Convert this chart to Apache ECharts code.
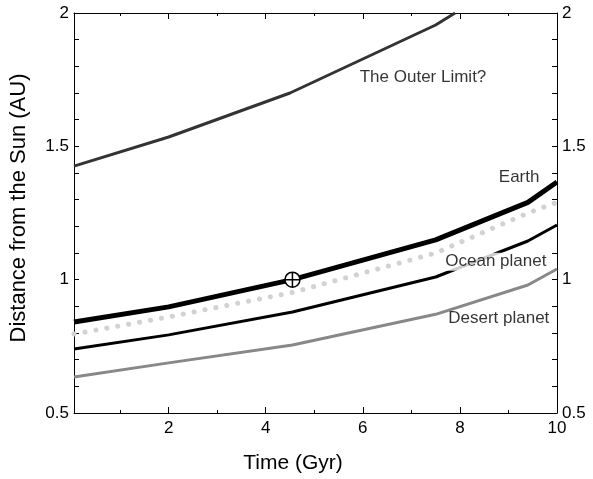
<!DOCTYPE html>
<html>
<head>
<meta charset="utf-8">
<script src="https://cdn.jsdelivr.net/npm/echarts@6.0.0/dist/echarts.min.js"></script>
<style>
  html, body { margin: 0; padding: 0; background: #fff; }
  #main { width: 593px; height: 479px; }
</style>
</head>
<body>
<div id="main"></div>
<script>
// time points (Gyr) where the tracks bend
const timeGyr = [0.05, 2, 4.55, 7.5, 9.4, 10];
const earth = [0.841, 0.898, 1.0, 1.149, 1.29, 1.366];
const dottedTrack = [0.796, 0.86, 0.952, 1.10, 1.25, 1.29];
const ocean = [0.74, 0.793, 0.879, 1.01, 1.145, 1.205];
const desert = [0.635, 0.688, 0.755, 0.87, 0.98, 1.04];

// outer limit leaves the top of the plot before 8 Gyr
const outerTime = [0.05, 2, 4.5, 7.5, 7.9];
const outerLimit = [1.426, 1.535, 1.70, 1.955, 2.0];

// present-day Earth
const sunNow = [4.55, 1.0];

// ticks
const xMajor = [2, 4, 6, 8, 10];
const xMinor = [1, 3, 5, 7, 9];
const yLabels = [0.5, 1, 1.5, 2];
const yTicks = [0.5, 0.6, 0.7, 0.8, 0.9, 1, 1.1, 1.2, 1.3, 1.4, 1.5, 1.6, 1.7, 1.8, 1.9, 2];

// curve labels
const labelNames = ['The Outer Limit?', 'Earth', 'Ocean planet', 'Desert planet'];
const labelX = [7.24, 9.22, 8.74, 8.80];
const labelY = [1.76, 1.385, 1.0675, 0.856];

const font = 'Liberation Sans, Arial, sans-serif';
const zip = (xs, ys) => xs.map((x, i) => [x, ys[i]]);

const chart = echarts.init(document.getElementById('main'));

function xAx(pos, ticks, len, withLabels) {
  return {
    type: 'value', position: pos, min: 0.05, max: 10,
    axisLine: { show: withLabels !== null, onZero: false, lineStyle: { color: '#000', width: 1 } },
    axisTick: { inside: true, length: len, customValues: ticks, lineStyle: { color: '#000', width: 1 } },
    axisLabel: withLabels
      ? { customValues: xMajor, color: '#000', fontSize: 17, fontFamily: font, margin: 7 }
      : { show: false },
    splitLine: { show: false }
  };
}

function yAx(pos) {
  return {
    type: 'value', position: pos, min: 0.5, max: 2,
    axisLine: { show: true, onZero: false, lineStyle: { color: '#000', width: 1 } },
    axisTick: { inside: true, length: 5, customValues: yTicks, lineStyle: { color: '#000', width: 1 } },
    axisLabel: { customValues: yLabels, color: '#000', fontSize: 17, fontFamily: font, margin: 5 },
    splitLine: { show: false }
  };
}

const xBottom = xAx('bottom', xMajor, 6, true);
xBottom.name = 'Time (Gyr)';
xBottom.nameLocation = 'middle';
xBottom.nameGap = 40;
xBottom.nameTextStyle = { color: '#000', fontSize: 21, fontFamily: font, padding: [0, 45, 0, 0] };

const yLeft = yAx('left');
yLeft.name = 'Distance from the Sun (AU)';
yLeft.nameLocation = 'middle';
yLeft.nameGap = 44;
yLeft.nameTextStyle = { color: '#000', fontSize: 22, fontFamily: font, padding: [0, 0, 0, 10] };

const option = {
  animation: false,
  backgroundColor: '#fff',
  grid: { left: 72, right: 36, top: 13, bottom: 66 },
  xAxis: [
    xBottom,
    xAx('bottom', xMinor, 3, null),
    xAx('top', xMajor, 6, false),
    xAx('top', xMinor, 3, null)
  ],
  yAxis: [yLeft, yAx('right')],
  series: [
    {
      type: 'line', data: zip(outerTime, outerLimit), symbol: 'none',
      lineStyle: { color: '#333', width: 3 }
    },
    {
      type: 'line', data: zip(timeGyr, desert), symbol: 'none',
      lineStyle: { color: '#888', width: 3 }
    },
    {
      type: 'line', data: zip(timeGyr, ocean), symbol: 'none',
      lineStyle: { color: '#000', width: 3 }
    },
    {
      type: 'line', data: zip(timeGyr, dottedTrack), symbol: 'none',
      lineStyle: { color: '#d2d2d2', width: 5, type: [0.1, 11], cap: 'round' }
    },
    {
      type: 'line', data: zip(timeGyr, earth), symbol: 'none',
      lineStyle: { color: '#000', width: 5 }
    },
    {
      type: 'scatter', z: 10, data: [sunNow],
      symbol: 'path://M0,-7A7,7 0 1,1 0,7A7,7 0 1,1 0,-7ZM-7,0L7,0M0,-7L0,7',
      symbolSize: 15,
      itemStyle: { color: '#fff', borderColor: '#000', borderWidth: 1.5, opacity: 1 }
    },
    {
      type: 'scatter', z: 12, symbolSize: 0, silent: true,
      data: labelNames.map((n, i) => ({
        name: n,
        value: [labelX[i], labelY[i]],
        label: n === 'Ocean planet' ? { backgroundColor: '#fff', padding: [1, 1, 0, 1] } : {}
      })),
      label: {
        show: true, position: 'inside', formatter: '{b}',
        color: '#000', fontSize: 17, fontFamily: font
      }
    }
  ]
};

chart.setOption(option);
</script>
</body>
</html>
